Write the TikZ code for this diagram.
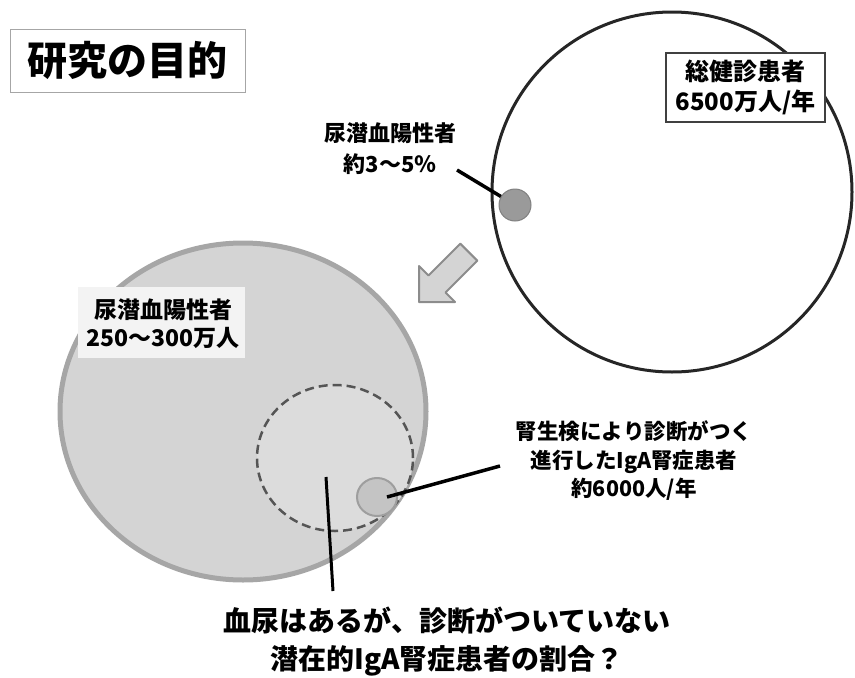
\documentclass[tikz,border=0pt]{standalone}
\usepackage{fontspec}
\setmainfont{Noto Sans CJK JP}
\usetikzlibrary{shapes.geometric}
\definecolor{bigfill}{HTML}{D4D4D4}
\definecolor{bigedge}{HTML}{A6A6A6}
\definecolor{dashfill}{HTML}{DCDCDC}
\definecolor{dashedge}{HTML}{555555}
\definecolor{smallfill}{HTML}{C4C4C4}
\definecolor{dotfill}{HTML}{9A9A9A}
\definecolor{labfill}{HTML}{F3F3F3}
\tikzset{
  lbl/.style={inner sep=0pt, align=center, font=\bfseries},
  conn/.style={draw=black, line width=3.5pt},
  blob/.style={ellipse, inner sep=0pt},
}
\begin{document}
\begin{tikzpicture}[x=1pt,y=-1pt]
\useasboundingbox (0,0) rectangle (855,678);
% title
\node[draw=gray!70, line width=1pt, minimum width=235pt, minimum height=63pt, inner sep=0pt,
      font=\bfseries\fontsize{40}{48}\selectfont] (title) at (127.5,60.5) {研究の目的};
% right big circle
\node[blob, draw=black!85, line width=3pt, fill=white, minimum width=360pt, minimum height=360pt] (whole) at (672,192) {};
\node[blob, draw=black!50, line width=1pt, fill=dotfill, minimum width=32pt, minimum height=32pt] (dot) at (515,205) {};
\node[draw=black!75, line width=1.5pt, fill=white, minimum width=159pt, minimum height=69pt, inner sep=0pt] (wbox) at (745.5,87.5) {};
\node[lbl, font=\bfseries\fontsize{24}{30}\selectfont] (wtext) at (745.5,87) {総健診患者\\6500万人/年};
\node[lbl, font=\bfseries\fontsize{22}{31}\selectfont] (hlab) at (390,149) {尿潜血陽性者\\約3～5％};
\coordinate (hlabend) at (457,170);
\draw[conn] (hlabend) -- (dot);
% arrow
\draw[draw=black!45, fill=black!17, line width=2pt, line join=round]
  (419,302) -- (419,266) -- (428.5,275.5) -- (460.3,243.7) -- (477.3,260.7) -- (445.5,292.5) -- (455,302) -- cycle;
% left big circle
\node[blob, draw=bigedge, line width=5pt, fill=bigfill, minimum width=366pt, minimum height=337pt] (pos) at (243,411.5) {};
\node[fill=labfill, minimum width=167pt, minimum height=71pt, inner sep=0pt] (pbox) at (161.5,322.5) {};
\node[lbl, font=\bfseries\fontsize{23}{28}\selectfont] (ptext) at (163,324) {尿潜血陽性者\\250～300万人};
\node[blob, draw=dashedge, dash pattern=on 9pt off 5pt, line width=2.5pt, fill=dashfill, minimum width=156pt, minimum height=146pt] (latent) at (335,458) {};
\node[blob, draw=black!38, line width=2pt, fill=smallfill, minimum width=40pt, minimum height=38pt] (iga) at (377,497) {};
\coordinate (igain) at (387,497);
\coordinate (igaend) at (500,466);
\draw[conn] (igain) -- (igaend);
\node[lbl, font=\bfseries\fontsize{21.5}{28.5}\selectfont] (igatext) at (634,461) {腎生検により診断がつく\\進行したIgA腎症患者\\約6000人/年};
\coordinate (qtop) at (326,477);
\coordinate (qbot) at (333,591);
\draw[draw=black, line width=3pt] (qtop) -- (qbot);
\node[lbl, font=\bfseries\fontsize{28}{38}\selectfont] (question) at (447,642) {血尿はあるが、診断がついていない\\潜在的IgA腎症患者の割合？};
\end{tikzpicture}
\end{document}
